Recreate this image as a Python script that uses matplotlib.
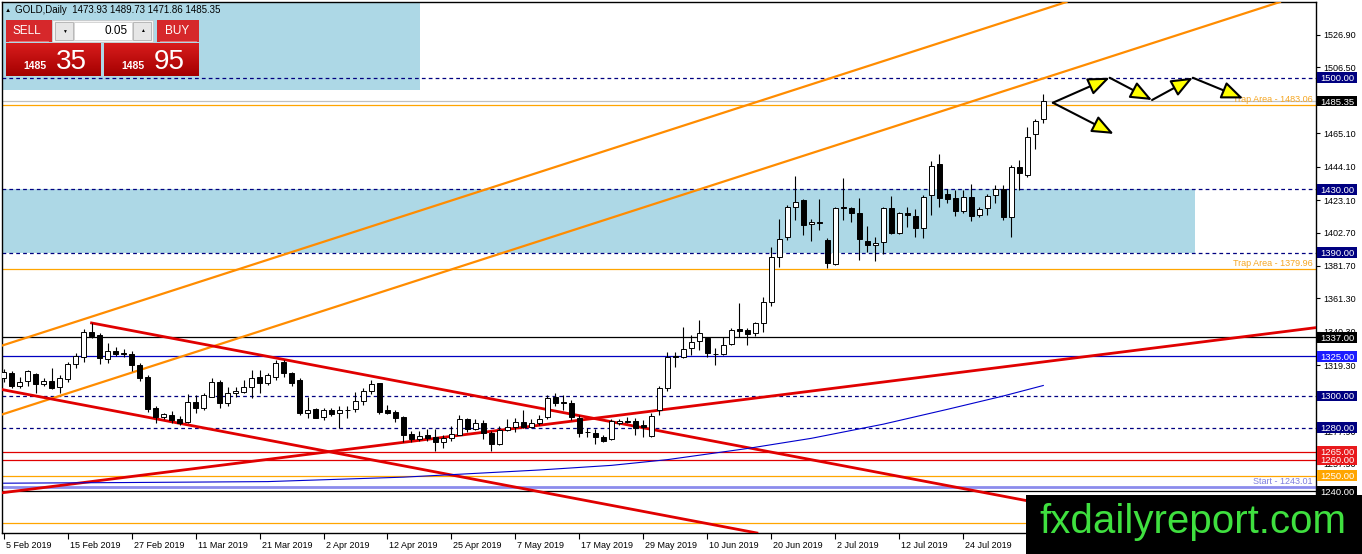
import numpy as np
import matplotlib.pyplot as plt
import matplotlib.transforms as mtransforms
from matplotlib.patches import Rectangle, FancyArrowPatch
from matplotlib.colors import LinearSegmentedColormap

plt.rcParams['font.family'] = ['Liberation Sans', 'DejaVu Sans']

W, H = 1362, 554

# GOLD daily candles, 5 Feb 2019 .. 7 Aug 2019
opens = [1311.0, 1314.5, 1306.5, 1309.5, 1313.8, 1307.5, 1309.4, 1305.4, 1310.7, 1319.9,
         1324.7, 1340.4, 1338.4, 1323.0, 1328.5, 1326.9, 1326.2, 1319.5, 1312.1, 1292.3,
         1286.6, 1287.9, 1285.6, 1283.9, 1296.3, 1292.3, 1299.6, 1309.0, 1295.4, 1301.7,
         1302.7, 1305.5, 1311.8, 1308.0, 1311.8, 1321.6, 1314.7, 1310.1, 1289.6, 1291.6,
         1287.0, 1291.2, 1289.1, 1291.0, 1291.6, 1296.9, 1303.3, 1308.0, 1291.2, 1290.2,
         1286.6, 1276.1, 1273.2, 1275.5, 1274.1, 1271.3, 1273.4, 1275.5, 1285.3, 1279.0,
         1283.2, 1276.5, 1269.8, 1278.6, 1280.3, 1283.9, 1280.3, 1282.9, 1287.0, 1299.6,
         1295.9, 1295.8, 1286.0, 1277.3, 1277.0, 1274.1, 1272.8, 1282.9, 1284.0, 1284.5,
         1281.5, 1274.9, 1291.2, 1304.8, 1324.9, 1324.7, 1330.0, 1334.8, 1336.3, 1326.5,
         1326.4, 1332.7, 1341.9, 1341.5, 1339.4, 1345.7, 1359.3, 1387.6, 1399.7, 1418.6,
         1423.2, 1408.1, 1409.0, 1398.1, 1383.0, 1418.5, 1418.0, 1414.8, 1397.6, 1394.7,
         1396.6, 1418.0, 1402.7, 1414.8, 1413.4, 1405.4, 1426.3, 1445.8, 1426.8, 1424.2,
         1416.5, 1424.9, 1413.6, 1418.2, 1426.3, 1429.9, 1412.3, 1444.2, 1438.9, 1464.7,
         1473.93]
highs = [1317.0, 1316.0, 1312.0, 1316.5, 1314.5, 1311.0, 1317.4, 1313.2, 1321.5, 1326.9,
         1342.0, 1345.9, 1339.6, 1333.1, 1330.8, 1329.3, 1328.0, 1320.7, 1313.2, 1293.4,
         1289.4, 1290.6, 1287.2, 1301.5, 1300.8, 1301.9, 1311.1, 1310.0, 1305.9, 1305.9,
         1309.9, 1316.4, 1316.4, 1314.5, 1322.6, 1322.9, 1315.3, 1311.1, 1299.6, 1292.3,
         1292.3, 1292.3, 1293.5, 1293.5, 1302.7, 1304.8, 1310.1, 1308.4, 1294.4, 1291.2,
         1287.4, 1278.2, 1278.2, 1279.2, 1279.2, 1275.5, 1281.4, 1288.1, 1286.0, 1285.3,
         1284.9, 1278.2, 1281.4, 1285.3, 1286.0, 1290.9, 1285.3, 1288.1, 1300.7, 1302.1,
         1300.7, 1297.2, 1288.1, 1279.9, 1279.2, 1275.5, 1285.3, 1285.3, 1286.6, 1286.0,
         1284.9, 1289.4, 1306.0, 1327.9, 1327.9, 1343.6, 1338.3, 1347.8, 1336.9, 1330.0,
         1337.3, 1342.5, 1358.2, 1342.5, 1346.7, 1362.4, 1393.9, 1411.0, 1420.0, 1438.3,
         1423.6, 1411.0, 1423.6, 1399.1, 1419.0, 1436.8, 1419.0, 1424.2, 1406.9, 1400.2,
         1419.0, 1425.7, 1415.9, 1419.0, 1417.3, 1426.3, 1447.9, 1452.1, 1429.9, 1429.5,
         1429.5, 1433.0, 1418.6, 1427.0, 1432.6, 1432.6, 1445.2, 1448.3, 1469.3, 1473.9,
         1489.73]
lows = [1309.0, 1305.0, 1305.0, 1306.0, 1302.0, 1306.0, 1304.4, 1301.7, 1309.0, 1317.6,
        1321.6, 1336.3, 1320.0, 1320.5, 1324.9, 1324.2, 1316.0, 1309.6, 1289.7, 1282.9,
        1285.3, 1282.9, 1281.9, 1282.9, 1289.0, 1290.9, 1299.3, 1292.3, 1293.5, 1299.6,
        1301.7, 1298.9, 1301.7, 1307.0, 1310.1, 1312.1, 1306.5, 1288.1, 1285.9, 1285.9,
        1285.0, 1287.6, 1280.1, 1286.0, 1290.0, 1294.6, 1301.4, 1288.7, 1288.7, 1283.6,
        1271.0, 1271.4, 1271.6, 1272.0, 1265.2, 1267.5, 1272.0, 1275.5, 1277.6, 1278.4,
        1272.8, 1265.2, 1269.0, 1278.0, 1277.6, 1279.9, 1279.6, 1281.6, 1285.3, 1293.5,
        1291.5, 1285.0, 1274.5, 1274.5, 1269.8, 1270.8, 1272.2, 1281.9, 1282.9, 1275.5,
        1274.5, 1274.2, 1288.0, 1303.0, 1318.4, 1323.7, 1325.8, 1328.9, 1324.7, 1319.5,
        1325.8, 1332.1, 1337.3, 1332.1, 1337.7, 1340.4, 1356.6, 1381.3, 1398.1, 1410.6,
        1401.2, 1397.6, 1404.3, 1380.7, 1382.4, 1410.6, 1409.6, 1385.5, 1390.7, 1385.1,
        1389.2, 1401.8, 1401.8, 1406.4, 1400.2, 1399.1, 1413.8, 1419.0, 1421.5, 1413.1,
        1415.2, 1410.2, 1412.7, 1413.8, 1421.1, 1410.6, 1399.7, 1429.5, 1437.4, 1455.0,
        1471.86]
closes = [1315.0, 1306.5, 1309.0, 1315.5, 1307.5, 1309.4, 1305.2, 1311.1, 1319.9, 1325.1,
          1340.4, 1338.0, 1323.6, 1328.3, 1326.2, 1326.6, 1319.5, 1311.1, 1291.9, 1286.6,
          1288.7, 1284.9, 1282.9, 1296.5, 1292.5, 1300.6, 1309.0, 1295.4, 1301.7, 1303.3,
          1305.5, 1311.1, 1308.0, 1313.2, 1320.9, 1314.7, 1308.4, 1289.6, 1291.2, 1286.4,
          1291.2, 1288.5, 1291.2, 1291.3, 1296.9, 1303.3, 1307.5, 1290.2, 1289.6, 1286.0,
          1275.5, 1272.8, 1274.9, 1273.4, 1271.3, 1273.4, 1276.1, 1285.3, 1279.0, 1282.9,
          1277.0, 1269.8, 1278.6, 1280.3, 1283.9, 1280.3, 1282.9, 1285.3, 1298.6, 1295.8,
          1295.7, 1286.6, 1277.0, 1277.1, 1274.1, 1271.9, 1284.3, 1284.5, 1283.8, 1279.6,
          1280.5, 1287.4, 1304.8, 1324.7, 1324.5, 1329.3, 1334.2, 1339.8, 1326.8, 1326.3,
          1332.1, 1341.5, 1340.7, 1338.8, 1345.7, 1359.3, 1387.6, 1398.5, 1418.6, 1422.1,
          1407.5, 1409.4, 1408.8, 1383.4, 1418.0, 1418.3, 1414.8, 1398.5, 1394.7, 1396.4,
          1418.0, 1402.7, 1414.8, 1413.6, 1405.4, 1425.3, 1444.8, 1424.2, 1423.6, 1416.5,
          1424.9, 1413.1, 1417.5, 1425.7, 1429.9, 1412.3, 1444.2, 1440.0, 1463.0, 1473.1,
          1485.35]

date_pos = [0, 8, 16, 24, 32, 40, 48, 56, 64, 72, 80, 88, 96, 104, 112, 120]
date_labels = ["5 Feb 2019", "15 Feb 2019", "27 Feb 2019", "11 Mar 2019", "21 Mar 2019",
               "2 Apr 2019", "12 Apr 2019", "25 Apr 2019", "7 May 2019", "17 May 2019",
               "29 May 2019", "10 Jun 2019", "20 Jun 2019", "2 Jul 2019", "12 Jul 2019",
               "24 Jul 2019"]
price_ticks = [1526.90, 1506.50, 1485.50, 1465.10, 1444.10, 1423.10, 1402.70, 1381.70,
               1361.30, 1340.30, 1319.30, 1298.90, 1277.90, 1257.50, 1236.50]

# moving average (blue) read at a few bars
ma_x = [0, 15, 33, 50, 55, 67, 76, 83, 93, 101, 110, 118, 125, 130]
ma_y = [1245.2, 1245.6, 1246.2, 1249.0, 1250.3, 1253.5, 1256.4, 1260.0, 1267.0,
        1273.4, 1282.3, 1291.6, 1300.0, 1306.6]

# levels
dashed_levels = [1500.00, 1430.00, 1390.00, 1300.00, 1280.00]
zone_low, zone_high, zone_end = 1390.0, 1430.0, 149
bid = 1485.35
trap_levels = [1483.06, 1379.96]
start_level = 1243.01
tag_prices = [1240.00, 1250.00, 1260.00, 1265.00, 1280.00, 1300.00, 1325.00, 1337.00,
              1390.00, 1430.00, 1485.35, 1500.00]
tag_colors = ['black', '#ffa500', '#e8191c', '#e8191c', '#000080', '#000080', '#1c1cff',
              'black', '#000080', '#000080', 'black', '#000080']

# trend lines, two points each (bar index, price)
chan_upper = [(0, 1332.0), (130, 1542.9)]
chan_lower = [(0, 1288.7), (130, 1499.6)]
red_top = [(11, 1345.9), (170, 1194.05)]
red_bottom = [(0, 1303.85), (160, 1151.05)]
red_rise = [(0, 1239.3), (164, 1342.9)]

# projected path (arrows)
path_x = [131.2, 138.3, 143.6, 148.7, 155.0]
path_y = [1484.3, 1500.0, 1486.0, 1500.0, 1487.0]
alt_x = [131.2, 138.8]
alt_y = [1484.3, 1464.7]

fig = plt.figure(figsize=(W / 100, H / 100), dpi=100)
fig.patch.set_facecolor('white')
ax = fig.add_axes([2 / W, 21 / H, 1314 / W, 531 / H])

# background boxes
ax.add_patch(Rectangle((-1, 1492.3), 53.05, 80, fc='#add8e6', ec='none', zorder=1))
ax.add_patch(Rectangle((-1, zone_low), zone_end + 1, zone_high - zone_low,
                       fc='#add8e6', ec='none', zorder=1))

# horizontal levels
for lv in dashed_levels:
    ax.axhline(lv, color='#000080', lw=0.9, ls=(0, (3, 2.5)), zorder=2)
ax.axhline(bid, color='#c0c0c0', lw=0.9, zorder=2)
for lv in trap_levels:
    ax.axhline(lv, color='#ffa500', lw=0.9, zorder=2)
ax.axhline(1337.00, color='black', lw=0.9, zorder=2)
ax.axhline(1325.00, color='#0000c0', lw=0.9, zorder=2)
ax.axhline(1265.00, color='#e00000', lw=0.9, zorder=2)
ax.axhline(1260.00, color='#e00000', lw=0.9, zorder=2)
ax.axhline(1250.00, color='#ffa500', lw=0.9, zorder=2)
ax.axhline(1220.00, color='#ffa500', lw=0.9, zorder=2)
ax.axhline(start_level, color='#8c8cec', lw=2.0, zorder=2)
ax.axhline(1240.00, color='black', lw=0.9, zorder=2)

# trend lines
ax.axline(chan_upper[0], chan_upper[1], color='#ff8c00', lw=1.6, zorder=3)
ax.axline(chan_lower[0], chan_lower[1], color='#ff8c00', lw=1.6, zorder=3)
ax.plot([p[0] for p in red_top], [p[1] for p in red_top], color='#e00000', lw=2.0, zorder=3)
ax.axline(red_bottom[0], red_bottom[1], color='#e00000', lw=2.0, zorder=3)
ax.axline(red_rise[0], red_rise[1], color='#e00000', lw=2.0, zorder=3)

ax.plot(ma_x, ma_y, color='#0000cd', lw=0.8, zorder=3)

# candles
o, h, l, c = map(np.array, (opens, highs, lows, closes))
idx = np.arange(len(o))
up = c >= o
ax.vlines(idx, l, h, color='black', lw=0.8, zorder=5)
ax.bar(idx, np.maximum(np.abs(c - o), 0.3), 0.6, bottom=np.minimum(o, c),
       color=np.where(up, 'white', 'black'), edgecolor='black', lw=0.7, zorder=6)

# level captions
ax.text(163.7, trap_levels[0] + 0.3, 'Trap Area - 1483.06', ha='right', va='bottom',
        color='#f5a623', fontsize=6.5, zorder=7)
ax.text(163.7, trap_levels[1] + 0.3, 'Trap Area - 1379.96', ha='right', va='bottom',
        color='#f5a623', fontsize=6.5, zorder=7)
ax.text(163.7, start_level + 0.6, 'Start - 1243.01', ha='right', va='bottom',
        color='#7f7fdf', fontsize=6.5, zorder=7)

# forecast arrows
style = '-|>,head_length=1.1,head_width=0.45'
for k in range(len(path_x) - 1):
    ax.add_patch(FancyArrowPatch((path_x[k], path_y[k]), (path_x[k + 1], path_y[k + 1]),
                                 arrowstyle=style, mutation_scale=12, fc='yellow', ec='black',
                                 lw=1.5, shrinkA=0, shrinkB=0, zorder=8))
ax.add_patch(FancyArrowPatch((alt_x[0], alt_y[0]), (alt_x[1], alt_y[1]),
                             arrowstyle=style, mutation_scale=12, fc='yellow', ec='black',
                             lw=1.5, shrinkA=0, shrinkB=0, zorder=8))

# price tags on the right scale
blend = mtransforms.blended_transform_factory(ax.transAxes, ax.transData)
for p, col in zip(tag_prices, tag_colors):
    ax.add_patch(Rectangle((1 + 1 / 1314, p - 3.4), 40 / 1314, 6.8, transform=blend,
                           fc=col, ec='none', clip_on=False, zorder=9))
    ax.text(1 + 21 / 1314, p, f'{p:.2f}', transform=blend, ha='center', va='center_baseline',
            color='white', fontsize=6.8, clip_on=False, zorder=10)

# axes
ax.set_xlim(-0.2, 164.1)
ax.set_ylim(1213.9, 1547.6)
ax.set_xticks(date_pos, date_labels)
ax.tick_params(axis='x', direction='out', length=4, width=0.8, labelsize=6.5, pad=1.5)
shift = mtransforms.ScaledTranslation(2 / 100, 0, fig.dpi_scale_trans)
for lb in ax.get_xticklabels():
    lb.set_horizontalalignment('left')
    lb.set_transform(lb.get_transform() + shift)
ax.yaxis.tick_right()
ax.set_yticks(price_ticks, [f'{v:.2f}' for v in price_ticks])
ax.tick_params(axis='y', direction='out', length=3, width=0.8, labelsize=6.5, pad=2)
for s in ax.spines.values():
    s.set_linewidth(1.0)
    s.set_color('black')

# overlay in pixel coordinates: trade panel and watermark
ov = fig.add_axes([0, 0, 1, 1])
ov.axis('off')

reds = LinearSegmentedColormap.from_list('reds', ['#d81c1c', '#a40000'])
grad = np.linspace(0, 1, 64)[:, None]

ov.text(5, 10, '\u25b2', fontsize=4.5, va='center', ha='left')
ov.text(15, 10, 'GOLD,Daily  1473.93 1489.73 1471.86 1485.35', fontsize=7,
        va='center', ha='left')

ov.add_patch(Rectangle((6, 20), 46, 22, fc='#d6282b', ec='none'))
ov.add_patch(Rectangle((157, 20), 42, 22, fc='#d6282b', ec='none'))
ov.plot([9, 48], [41, 41], color='#f08080', lw=0.6)
ov.plot([160, 196], [41, 41], color='#f08080', lw=0.6)
ov.text(27, 31.5, 'SELL', color='white', fontsize=8.5, ha='center', va='center')
ov.text(177, 31.5, 'BUY', color='white', fontsize=8.5, ha='center', va='center')

ov.add_patch(Rectangle((52, 20), 101, 22, fc='#f4f4f4', ec='#c8c8c8', lw=0.6))
ov.add_patch(Rectangle((55, 22), 18, 18, fc='#e6e6e6', ec='#b0b0b0', lw=0.6))
ov.add_patch(Rectangle((74, 22), 58, 18, fc='white', ec='#d0d0d0', lw=0.6))
ov.add_patch(Rectangle((133, 22), 18, 18, fc='#e6e6e6', ec='#b0b0b0', lw=0.6))
ov.text(64, 31, '\u25bc', fontsize=3.5, ha='center', va='center')
ov.text(142, 31, '\u25b2', fontsize=3.5, ha='center', va='center')
ov.text(128, 31.5, '0.05', fontsize=8.5, ha='right', va='center')

for x0, big in [(6, '35'), (104, '95')]:
    ov.imshow(grad, cmap=reds, extent=[x0, x0 + 95, 76, 43], aspect='auto', zorder=1)
    ov.text(x0 + 17, 69, '1485', color='white', fontsize=7.5, fontweight='bold',
            ha='left', va='baseline', zorder=2)
    ov.text(x0 + 50, 69, big, color='white', fontsize=20, ha='left', va='baseline', zorder=2)

ov.add_patch(Rectangle((1026, 495), 336, 59, fc='black', ec='none', zorder=5))
ov.text(1193, 522, 'fxdailyreport.com', color='#3fe03f', fontsize=29,
        ha='center', va='center', zorder=6)

ov.set_xlim(0, W)
ov.set_ylim(H, 0)

fig.savefig('out.png', dpi=100)
